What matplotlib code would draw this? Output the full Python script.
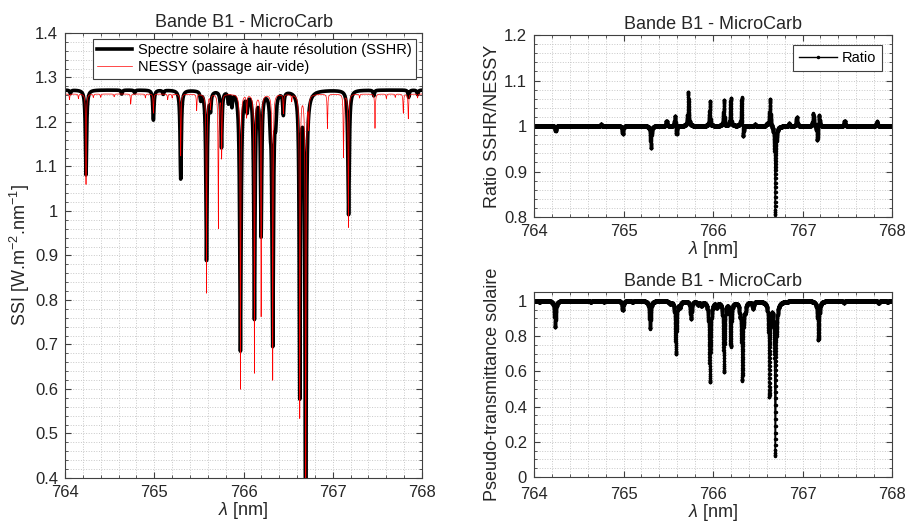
import numpy as np
import matplotlib
matplotlib.use("Agg")
import matplotlib.pyplot as plt
from matplotlib.ticker import MultipleLocator, FormatStrFormatter

plt.rcParams['font.family'] = ['Liberation Sans', 'DejaVu Sans']
plt.rcParams['mathtext.fontset'] = 'custom'
plt.rcParams['mathtext.rm'] = 'Liberation Sans'
plt.rcParams['mathtext.it'] = 'Liberation Sans:italic'

# --- data ----------------------------------------------------------------------
# wavelength grid [nm]
lam = np.arange(764.0, 768.0001, 0.0005)

# SSHR (high resolution solar spectrum): continuum level and absorption lines
sshr_cont = 1.272
sshr_centers = [764.06, 764.235, 764.635, 764.78, 764.99, 765.10, 765.296, 765.52,
                765.585, 765.63, 765.753, 765.83, 765.87, 765.965, 766.04, 766.122,
                766.197, 766.30, 766.327, 766.36, 766.446, 766.63, 766.696, 766.696,
                767.177, 767.46, 767.85, 767.95]
sshr_minima = [0.994, 0.85, 0.993, 0.995, 0.947, 0.993, 0.843, 0.985,
               0.70, 0.97, 0.90, 0.98, 0.975, 0.54, 0.97, 0.598,
               0.746, 0.96, 0.551, 0.96, 0.96, 0.46, 0.12, 0.988,
               0.78, 0.99, 0.987, 0.992]
sshr_hw = [0.008, 0.008, 0.008, 0.008, 0.008, 0.008, 0.008, 0.008,
           0.008, 0.008, 0.008, 0.008, 0.008, 0.009, 0.008, 0.008,
           0.008, 0.008, 0.009, 0.008, 0.008, 0.007, 0.007, 0.04,
           0.009, 0.008, 0.008, 0.008]

# NESSY spectrum (air-vacuum shifted): continuum level and absorption lines
nessy_cont = 1.263
nessy_centers = [764.05, 764.15, 764.235, 764.317, 764.40, 764.55, 764.736, 764.90,
                 764.99, 765.15, 765.20, 765.296, 765.475, 765.585, 765.63, 765.718,
                 765.755, 765.965, 766.035, 766.122, 766.197, 766.327, 766.446, 766.54,
                 766.63, 766.696, 766.73, 766.94, 767.12, 767.175, 767.30, 767.473,
                 767.60, 767.70, 767.79, 767.846, 767.95]
nessy_minima = [0.99, 0.992, 0.839, 0.994, 0.994, 0.995, 0.982, 0.993,
                0.966, 0.99, 0.993, 0.89, 0.971, 0.646, 0.975, 0.762,
                0.887, 0.475, 0.96, 0.504, 0.605, 0.491, 0.966, 0.988,
                0.424, 0.14, 0.947, 0.939, 0.888, 0.763, 0.993, 0.939,
                0.992, 0.994, 0.966, 0.956, 0.993]
nessy_hw = 0.004

# ratio SSHR/NESSY: signed features around 1
ratio_centers = [764.24, 764.75, 764.99, 765.305, 765.48, 765.575, 765.592, 765.723,
                 765.965, 765.975, 766.122, 766.132, 766.197, 766.207, 766.32, 766.335,
                 766.47, 766.60, 766.636, 766.696, 766.85, 766.935, 767.12, 767.165,
                 767.185, 767.47, 767.83]
ratio_amps = [-0.010, 0.004, -0.017, -0.049, 0.012, 0.025, -0.020, 0.075,
              0.057, -0.010, 0.060, -0.010, 0.063, -0.008, 0.067, -0.032,
              0.004, 0.005, 0.061, -0.196, 0.006, 0.020, 0.028, -0.034,
              0.026, 0.012, 0.010]
ratio_hw = 0.006


def absorb(x, centers, minima, hw):
    hw = np.broadcast_to(hw, (len(centers),))
    t = np.ones_like(x)
    for c, m, w in zip(centers, minima, hw):
        t *= 1 - (1 - m) / (1 + ((x - c) / w) ** 2)
    return t


trans = absorb(lam, sshr_centers, sshr_minima, sshr_hw)
sshr = sshr_cont * trans
nessy = nessy_cont * absorb(lam, nessy_centers, nessy_minima, nessy_hw)
ratio = np.ones_like(lam)
for c, a in zip(ratio_centers, ratio_amps):
    ratio += a / (1 + ((lam - c) / ratio_hw) ** 2)

# --- figure ------------------------------------------------------------------------
fig = plt.figure(figsize=(9.07, 5.28), dpi=100)
ax1 = fig.add_axes([0.0717, 0.0947, 0.3936, 0.8428])
ax2 = fig.add_axes([0.5888, 0.589, 0.3947, 0.3447])
ax3 = fig.add_axes([0.5888, 0.0966, 0.3947, 0.3504])

txt = '#262626'
title = 'Bande B1 - MicroCarb'


def style(ax, ymaj, ymin):
    ax.set_xlim(764, 768)
    ax.xaxis.set_major_locator(MultipleLocator(1))
    ax.xaxis.set_minor_locator(MultipleLocator(0.2))
    ax.yaxis.set_major_locator(MultipleLocator(ymaj))
    ax.yaxis.set_minor_locator(MultipleLocator(ymin))
    ax.yaxis.set_major_formatter(FormatStrFormatter('%g'))
    ax.grid(True, which='both', linestyle=':', color='#c8c8c8', linewidth=0.7)
    ax.set_axisbelow(True)
    ax.tick_params(which='both', direction='in', top=True, right=True,
                   colors='#404040', labelcolor=txt, labelsize=12)
    ax.tick_params(axis='y', pad=5)
    ax.tick_params(axis='x', pad=5)
    ax.tick_params(which='major', length=4)
    ax.tick_params(which='minor', length=2)
    for s in ax.spines.values():
        s.set_color('#404040')
        s.set_linewidth(0.8)
    ax.set_title(title, fontsize=13, color=txt, pad=4)
    ax.set_xlabel(r'$\lambda$ [nm]', fontsize=13, color=txt, labelpad=0)


ax1.plot(lam, sshr, color='black', linewidth=2.6,
         label='Spectre solaire à haute résolution (SSHR)')
ax1.plot(lam, nessy, color='red', linewidth=0.5, label='NESSY (passage air-vide)')
style(ax1, 0.1, 0.02)
ax1.set_ylim(0.4, 1.4)
ax1.set_ylabel(r'SSI [W.m$^{-2}$.nm$^{-1}$]', fontsize=13, color=txt, labelpad=2)
leg = ax1.legend(loc='upper right', fontsize=10.5, handlelength=2.4, borderpad=0.3,
                 labelspacing=0.2, handletextpad=0.4, fancybox=False, framealpha=1,
                 borderaxespad=0.4)
leg.get_frame().set_edgecolor('#404040')
leg.get_frame().set_linewidth(0.8)

ax2.plot(lam, ratio, color='black', linewidth=1, marker='.', markersize=3, label='Ratio')
style(ax2, 0.1, 0.02)
ax2.set_ylim(0.8, 1.2)
ax2.set_ylabel('Ratio SSHR/NESSY', fontsize=13, color=txt, labelpad=2)
leg2 = ax2.legend(loc='upper right', fontsize=10.5, handlelength=2.6, borderpad=0.4,
                  handletextpad=0.3, fancybox=False, framealpha=1, markerscale=1,
                  borderaxespad=0.7)
leg2.get_frame().set_edgecolor('#404040')
leg2.get_frame().set_linewidth(0.8)

ax3.plot(lam, trans, color='black', linewidth=1, marker='.', markersize=3)
style(ax3, 0.2, 0.05)
ax3.set_ylim(0, 1.05)
ax3.tick_params(axis='x', pad=7)
ax3.set_ylabel('Pseudo-transmittance solaire', fontsize=13, color=txt, labelpad=2)

fig.savefig('out.png', dpi=100)
